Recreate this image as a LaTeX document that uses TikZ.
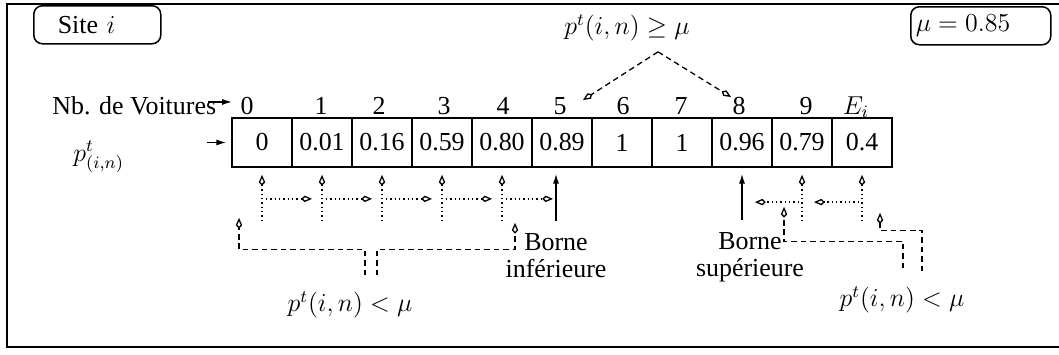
\documentclass[tikz,border=0pt,12pt]{standalone}
\usepackage{amsmath,amssymb}
\usepackage{fontspec}
\setmainfont{Liberation Serif}
\usepackage{tikz}
\usetikzlibrary{arrows.meta}
\usetikzlibrary{calc}
\newcommand\px{0.463pt}
\tikzset{
  cadre/.style={line width=0.8pt},
  boite/.style={draw, line width=0.7pt, rounded corners=4pt, align=left, inner ysep=0pt, minimum height=38*\px},
  cellule/.style={draw, line width=0.8pt, minimum width=60*\px, minimum height=49*\px, inner sep=0pt},
  etiq/.style={inner sep=0pt, anchor=base},
  borne/.style={align=center, inner sep=1pt, font=\fontsize{12}{12.5}\selectfont},
  cond/.style={inner sep=1pt},
  fleche/.style={-{Latex[length=4.5pt,width=2.8pt]}, line width=0.6pt},
  pointille/.style={-{Kite[open,length=5pt,width=3pt,inset=1.6pt]}, line width=0.6pt, dash pattern=on 0.6pt off 1.4pt},
  tirets/.style={-{Kite[open,length=5pt,width=3pt,inset=1.6pt]}, line width=0.6pt, dash pattern=on 2.6pt off 1.8pt},
}

\begin{document}
\begin{tikzpicture}[x=0.463pt, y=-0.463pt]
  \useasboundingbox (0,0) rectangle (1059,354);
  \draw[cadre] (1059,4) -- (7,4) -- (7,347) -- (1059,347);

  % en-tetes
  \node[boite, anchor=north west, text width=79*\px, inner xsep=24*\px] (site) at (33,5) {Site $i$};
  \node[boite, anchor=north west, text width=130*\px, inner xsep=5*\px] (seuil) at (910,6) {$\mu = 0.85$};

  % tableau des probabilites
  \foreach \v [count=\k from 0] in {0,0.01,0.16,0.59,0.80,0.89,1,1,0.96,0.79,0.4}
    \node[cellule] (c\k) at ({262+60*\k},142.5) {\v};
  \foreach \v/\x [count=\k from 0] in {0/247,1/321,2/379,3/444,4/503,5/560,6/623,7/681,8/739,9/806,$E_i$/856}
    \node[etiq] (n\k) at (\x,114) {\v};

  \node[etiq, anchor=base west] (nb) at (52,114) {Nb. de Voitures};
  \node[etiq, anchor=base west] (pt) at (73,161) {$p^t_{(i,n)}$};
  \draw[fleche] ([xshift=-4pt, yshift=1.5pt]nb.east) -- ++(24,0);
  \draw[fleche] ([xshift=-24*\px]c0.west) -- ([xshift=-5*\px]c0.west);

  % parcours sous le tableau
  \foreach \k in {0,...,10}
    \coordinate (b\k) at ($(c\k.south)+(0,31)$);
  \foreach \k in {0,1,2,3,4,9,10}
    \draw[pointille] ($(c\k.south)+(0,53)$) -- ($(c\k.south)+(0,7)$);
  \foreach \k/\j in {0/1,1/2,2/3,3/4}
    \draw[pointille] ([xshift=4*\px]b\k) -- ([xshift=-10*\px]b\j);

  \node[borne] (binf) at (556,256) {Borne\\inférieure};
  \draw[fleche] ($(binf.north)+(0,-10)$) -- ($(binf.north |- c5.south)+(0,6)$);
  \draw[pointille] ([xshift=4*\px]b4) -- ($(binf.north |- b4)+(-3,0)$);

  \node[borne] (bsup) at (750,257) {Borne\\supérieure};
  \draw[fleche] ($(bsup.north -| c8.south)+(0,-10)$) -- ($(c8.south)+(0,6)$);
  \draw[pointille] ([xshift=-3*\px, yshift=-1.5pt]b10) -- ([xshift=12*\px, yshift=-1.5pt]b9);
  \draw[pointille] ([xshift=-3*\px, yshift=-1.5pt]b9) -- ([xshift=13*\px, yshift=-1.5pt]b8);

  % conditions
  \node[cond] (linf) at (350,305) {$p^t(i,n) < \mu$};
  \coordinate (ga) at ($(c0.south)+(-23,50)$);
  \coordinate (da) at ($(c4.south)+(13,55)$);
  \draw[tirets] ($(linf.north)+(15,-14)$) -- ++(0,-26) -| (ga);
  \draw[tirets] ($(linf.north)+(27,-14)$) -- ++(0,-26) -| (da);

  \node[cond] (lsup) at (902,300) {$p^t(i,n) < \mu$};
  \coordinate (gb) at ($(c9.south)+(-18,39)$);
  \coordinate (db) at ($(c10.south)+(18,45)$);
  \draw[tirets] ($(lsup.north)+(1,-16)$) -- ++(0,-27) -| (gb);
  \draw[tirets] ($(lsup.north)+(20,-13)$) -- ++(0,-41) -| (db);

  \node[cond] (lsom) at (627,28) {$p^t(i,n) \geq \mu$};
  \coordinate (sommet) at ($(lsom.south)+(31,8)$);
  \coordinate (t5) at (583,100);
  \coordinate (t8) at (731,97);
  \draw[tirets] (sommet) -- (t5);
  \draw[tirets] (sommet) -- (t8);
\end{tikzpicture}
\end{document}
